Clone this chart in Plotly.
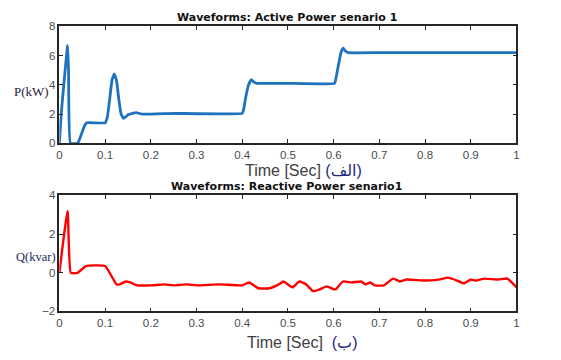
import plotly.graph_objects as go

# Active power P (kW)
t_p = [0, 0.004, 0.018, 0.020, 0.024, 0.040, 0.045, 0.055, 0.060, 0.100, 0.105, 0.110, 0.115, 0.120,
       0.125, 0.130, 0.135, 0.140, 0.145, 0.150, 0.160, 0.168, 0.180, 0.250, 0.300, 0.400, 0.403,
       0.408, 0.414, 0.420, 0.425, 0.432, 0.500, 0.602, 0.606, 0.612, 0.617, 0.621, 0.626, 0.632,
       0.700, 0.800, 0.900, 1.000]
p_kw = [0, 2.0, 6.7, 5.0, 0, 0, 0.35, 1.2, 1.4, 1.4, 1.8, 3.0, 4.3, 4.75,
        4.3, 3.0, 2.0, 1.7, 1.8, 1.95, 2.05, 2.1, 2.0, 2.05, 2.02, 2.05, 2.3,
        3.2, 4.0, 4.35, 4.2, 4.1, 4.1, 4.1, 4.6, 5.6, 6.3, 6.5, 6.3, 6.2,
        6.2, 6.2, 6.2, 6.2]

# Reactive power Q (kvar)
t_q = [0, 0.018, 0.025, 0.040, 0.058, 0.100, 0.125, 0.132, 0.145, 0.155, 0.170, 0.200, 0.230, 0.250,
       0.280, 0.300, 0.350, 0.400, 0.415, 0.435, 0.460, 0.480, 0.490, 0.510, 0.525, 0.540, 0.555,
       0.570, 0.585, 0.600, 0.605, 0.620, 0.640, 0.660, 0.670, 0.680, 0.690, 0.710, 0.730, 0.745,
       0.760, 0.800, 0.830, 0.850, 0.870, 0.885, 0.900, 0.910, 0.930, 0.960, 0.980, 1.000]
q_kvar = [0, 3.2, 0, 0, 0.35, 0.35, -0.6, -0.6, -0.45, -0.5, -0.65, -0.65, -0.6, -0.65,
          -0.6, -0.65, -0.6, -0.65, -0.5, -0.8, -0.8, -0.6, -0.45, -0.75, -0.45, -0.6, -0.95,
          -0.85, -0.7, -0.85, -0.85, -0.45, -0.5, -0.45, -0.6, -0.5, -0.65, -0.65, -0.3, -0.45,
          -0.35, -0.4, -0.35, -0.25, -0.4, -0.55, -0.35, -0.4, -0.3, -0.35, -0.3, -0.75]

x_ticks = [0, 0.1, 0.2, 0.3, 0.4, 0.5, 0.6, 0.7, 0.8, 0.9, 1]
x_ticklabels = ["0", "0.1", "0.2", "0.3", "0.4", "0.5", "0.6", "0.7", "0.8", "0.9", "1"]

W, H = 561, 360
fig = go.Figure()
fig.add_trace(go.Scatter(x=t_p, y=p_kw, mode="lines",
                         line=dict(color="#1f72bd", width=2.8, shape="spline", smoothing=0.3),
                         xaxis="x", yaxis="y", showlegend=False))
fig.add_trace(go.Scatter(x=t_q, y=q_kvar, mode="lines",
                         line=dict(color="#ff0000", width=2.4, shape="spline", smoothing=0.4),
                         xaxis="x2", yaxis="y2", showlegend=False))

axis_common = dict(showline=True, linecolor="#262626", linewidth=1.6, mirror="allticks",
                   ticks="inside", ticklen=4, tickcolor="#262626", showgrid=False, zeroline=False,
                   tickfont=dict(family="Liberation Sans, Arial", size=11.5, color="#4a4a4a"))

xl, xr = 57 / W, 519 / W
fig.update_layout(
    width=W, height=H, margin=dict(l=0, r=0, t=0, b=0),
    paper_bgcolor="white", plot_bgcolor="white",
    xaxis=dict(domain=[xl, xr], range=[0, 1], tickvals=x_ticks, ticktext=x_ticklabels,
               anchor="y", **axis_common),
    yaxis=dict(domain=[1 - 142 / H, 1 - 21 / H], range=[0, 8], tickvals=[0, 2, 4, 6, 8],
               anchor="x", **axis_common),
    xaxis2=dict(domain=[xl, xr], range=[0, 1], tickvals=x_ticks, ticktext=x_ticklabels,
                anchor="y2", **axis_common),
    yaxis2=dict(domain=[1 - 316 / H, 1 - 196 / H], range=[-2, 4], tickvals=[-2, 0, 2, 4],
                anchor="x2", **axis_common),
)

def ann(text, x, y, size, color="#262626", family="Liberation Sans, Arial", bold=False):
    if bold:
        text = "<b>" + text + "</b>"
    fig.add_annotation(text=text, x=x / W, y=1 - y / H, xref="paper", yref="paper",
                       showarrow=False, xanchor="center", yanchor="middle",
                       font=dict(size=size, color=color, family=family))

ann("Waveforms: Active Power senario 1", 287, 12, 11, color="#111111",
    family="DejaVu Sans", bold=True)
ann("Waveforms: Reactive Power senario1", 287, 187, 11, color="#111111",
    family="DejaVu Sans", bold=True)
ann("Time [Sec] <span style='color:#1a2a7a'>(الف)</span>", 304, 170, 16, color="#404040",
    family="Liberation Sans, DejaVu Sans")
ann("Time [Sec]  <span style='color:#1a2a7a'>(ب)</span>", 302, 348, 16, color="#404040",
    family="Liberation Sans, DejaVu Sans")
ann("P(kW)", 29, 88, 13, color="#2a1a3a", family="Liberation Serif, Times New Roman")
ann("Q(kvar)", 33, 260, 12.5, color="#1a2a5a", family="Liberation Serif, Times New Roman")

fig.write_html("out.html")
